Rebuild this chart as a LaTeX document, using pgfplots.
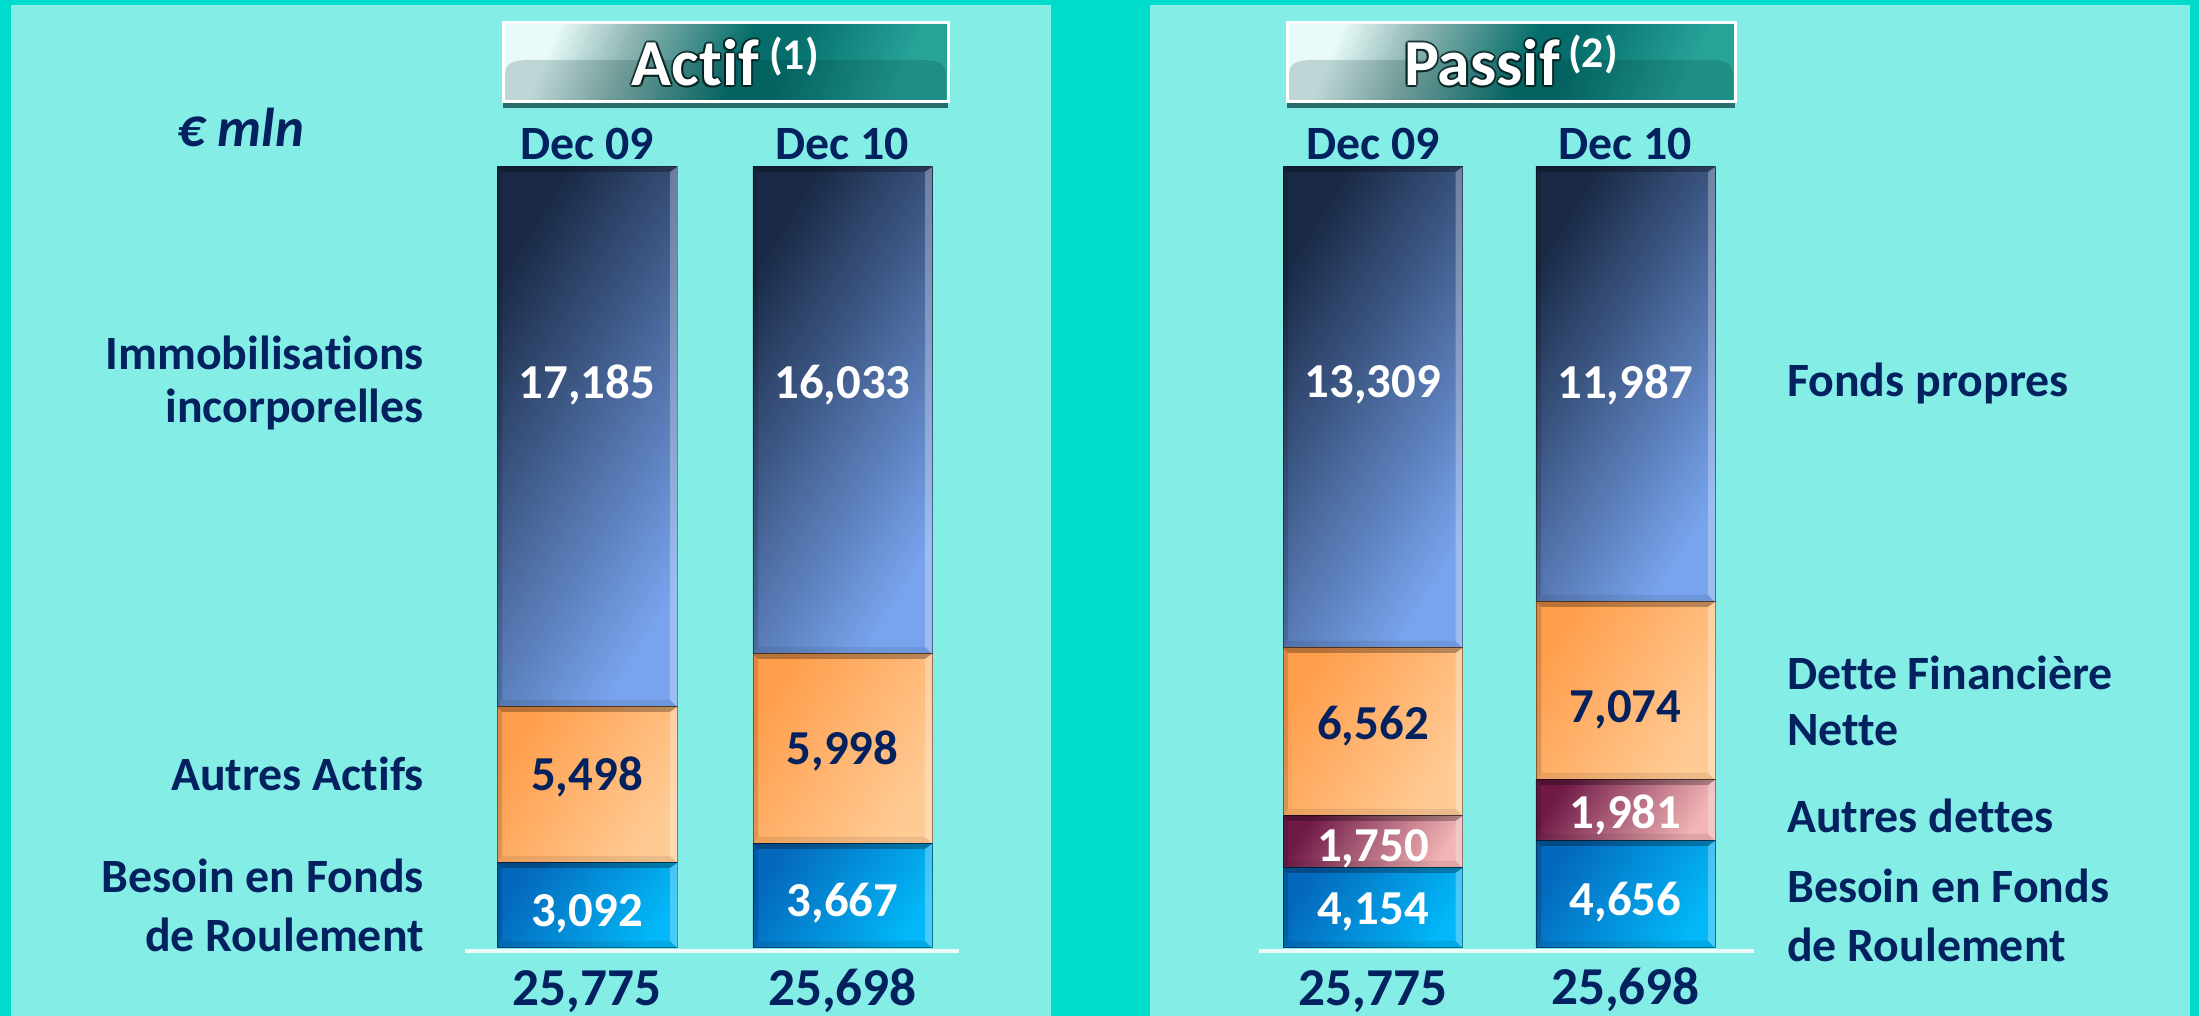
\documentclass[border=0pt]{standalone}
\usepackage{pgfplots}
\pgfplotsset{compat=1.18}
\usepackage{fontspec}
\setmainfont[Ligatures=NoCommon]{Carlito}
\definecolor{frame}{HTML}{00DCCB}
\definecolor{panel}{HTML}{84EEE6}
\definecolor{navy}{HTML}{03215F}
\definecolor{blueA}{HTML}{0468BC}
\definecolor{blueB}{HTML}{02B8F8}
\definecolor{orA}{HTML}{FF9E4C}
\definecolor{orB}{HTML}{FFCB95}
\definecolor{darkA}{HTML}{1A2A46}
\definecolor{darkB}{HTML}{78A4EE}
\definecolor{marA}{HTML}{701A48}
\definecolor{marB}{HTML}{F2B4B4}
\definecolor{ttlA}{HTML}{E8FBF9}
\definecolor{ttlG}{HTML}{8CB4B1}
\definecolor{ttlM}{HTML}{056E6B}
\definecolor{ttlB}{HTML}{27A398}
\pgfdeclarehorizontalshading{ttl}{100bp}{color(0bp)=(ttlA); color(25bp)=(ttlA); color(36bp)=(ttlG); color(52bp)=(ttlM); color(58bp)=(ttlM); color(75bp)=(ttlB); color(100bp)=(ttlB)}
\pgfplotsset{
  barstyle/.style={ybar stacked, scale only axis, height=781bp, ymin=0, ymax=781, xmin=-0.5, xmax=0.5,
    bar width=179.5bp, clip=false, axis line style={draw=none}, ytick=\empty, xtick={0},
    xticklabel pos=top, major tick length=0pt, anchor=south west,
    xticklabel style={anchor=center, yshift=23bp, text=navy, font=\bfseries\fontsize{48}{50}\selectfont}},
  labelstyle/.style={scale only axis, height=781bp, ymin=0, ymax=781, xmin=-0.5, xmax=1.5, hide axis, clip=false, anchor=south west},
  val/.style n args={2}{draw=none, mark=none, forget plot, nodes near coords, point meta=explicit symbolic,
    nodes near coords style={anchor=center, inner sep=0pt, text=#1, font=\bfseries\fontsize{#2}{#2}\selectfont}},
  shd/.style n args={2}{draw=none, left color=#1, right color=#2, shading angle=58, forget plot},
}
% Segment heights are those drawn in the reference (its segments are not to
% scale with their printed figures); the printed figures are the label tables.
\newcommand\bevel[4]{% x0 x1 ytop ybottom
  \fill[black,opacity=.28] (#1,#3) -- (#2,#3) -- (#2-7,#3+5) -- (#1+5,#3+5) -- cycle;
  \fill[white,opacity=.28] (#2,#3) -- (#2,#4) -- (#2-7,#4-7) -- (#2-7,#3+5) -- cycle;
  \fill[black,opacity=.14] (#1,#3) -- (#1+5,#3+5) -- (#1+5,#4-7) -- (#1,#4) -- cycle;
  \fill[black,opacity=.08] (#1,#4) -- (#1+5,#4-7) -- (#2-7,#4-7) -- (#2,#4) -- cycle;
  \draw[black,opacity=.40,line width=1bp] (#1,#3) rectangle (#2,#4);
}
\newcommand\titlebox[4]{% x0 x1 title shift
  \fill[black!55!teal,opacity=.7] (#1,102) rectangle (#2,108);
  \shade[shading=ttl, shading angle=-22] (#1,23) rectangle (#2,102);
  \fill[black!60!teal,opacity=.18] (#1+2,102) -- (#1+2,76) .. controls (#1+2,62) and (#1+10,60) .. (#1+30,60) -- (#2-30,60) .. controls (#2-10,60) and (#2-2,62) .. (#2-2,76) -- (#2-2,102) -- cycle;
  \draw[white,line width=3bp] (#1,23) rectangle (#2,102);
  \foreach \dx/\dy in {-2/0,2/0,0/-2,0/2,-1.5/-1.5,1.5/1.5,-1.5/1.5,1.5/-1.5}{
    \node[text=black!80!teal,opacity=.55,font=\bfseries\fontsize{66}{66}\selectfont] at ({(#1+#2)/2-#4+\dx},63+\dy) {#3};}
  \node[text=white,font=\bfseries\fontsize{66}{66}\selectfont] at ({(#1+#2)/2-#4},63) {#3};
}
\begin{document}
\begin{tikzpicture}
\useasboundingbox (0,0) rectangle (2199bp,1016bp);
\fill[frame] (0,0) rectangle (2199bp,1016bp);
\begin{scope}[x=1bp,y=-1bp,yshift=1016bp]
  \fill[panel] (11,5) rectangle (1051,1016);
  \fill[panel] (1150,5) rectangle (2190,1016);
  \titlebox{503}{948}{Actif}{30}
  \titlebox{1287}{1735}{Passif}{29}
  \node[text=white,font=\bfseries\fontsize{44}{44}\selectfont] at (794,57) {(1)};
  \node[text=white,font=\bfseries\fontsize{44}{44}\selectfont] at (1593,55) {(2)};
  \node[text=navy,font=\bfseries\itshape\fontsize{55}{55}\selectfont] at (241,127) {€ mln};
\end{scope}

% Left chart, one axis per bar
\begin{axis}[barstyle, width=255.5bp, at={(459.25bp,68bp)}, xticklabels={Dec 09}]
\addplot[shd={blueA}{blueB}] coordinates {(0,85)};
\addplot[shd={orA}{orB}] coordinates {(0,156)};
\addplot[shd={darkA}{darkB}] coordinates {(0,540)};
\end{axis}
\begin{axis}[barstyle, width=255.5bp, at={(714.75bp,68bp)}, xticklabels={Dec 10}]
\addplot[shd={blueA}{blueB}] coordinates {(0,104)};
\addplot[shd={orA}{orB}] coordinates {(0,190)};
\addplot[shd={darkA}{darkB}] coordinates {(0,487)};
\end{axis}

% Right chart, one axis per bar
\begin{axis}[barstyle, width=252.5bp, at={(1246.75bp,68bp)}, xticklabels={Dec 09}]
\addplot[shd={blueA}{blueB}] coordinates {(0,80)};
\addplot[shd={marA}{marB}] coordinates {(0,52)};
\addplot[shd={orA}{orB}] coordinates {(0,168)};
\addplot[shd={darkA}{darkB}] coordinates {(0,481)};
\end{axis}
\begin{axis}[barstyle, width=252.5bp, at={(1499.25bp,68bp)}, xticklabels={Dec 10}]
\addplot[shd={blueA}{blueB}] coordinates {(0,107)};
\addplot[shd={marA}{marB}] coordinates {(0,61)};
\addplot[shd={orA}{orB}] coordinates {(0,178)};
\addplot[shd={darkA}{darkB}] coordinates {(0,435)};
\end{axis}

\begin{scope}[x=1bp,y=-1bp,yshift=1016bp]
  \foreach \a/\b/\c/\d in {497/677/167/707, 497/677/707/863, 497/677/863/948,
     753/932/167/654, 753/932/654/844, 753/932/844/948,
     1283/1462.5/167/648, 1283/1462.5/648/816, 1283/1462.5/816/868, 1283/1462.5/868/948,
     1536/1715/167/602, 1536/1715/602/780, 1536/1715/780/841, 1536/1715/841/948}{
    \bevel{\a}{\b}{\c}{\d}}
  \fill[white!85!panel] (465,949) rectangle (959,953);
  \fill[white!85!panel] (1259,949) rectangle (1754,953);
  \begin{scope}[text=navy,inner sep=0pt,font=\bfseries\fontsize{48}{48}\selectfont]
    \node[anchor=east] at (424,352.5) {Immobilisations};
    \node[anchor=east] at (424,409) {incorporelles};
    \node[anchor=east] at (424,774) {Autres Actifs};
    \node[anchor=east] at (424,876) {Besoin en Fonds};
    \node[anchor=east] at (424,935) {de Roulement};
    \node[anchor=west] at (1787,383) {Fonds propres};
    \node[anchor=west] at (1787,673) {Dette Financière};
    \node[anchor=west] at (1787,730) {Nette};
    \node[anchor=west] at (1787,816) {Autres dettes};
    \node[anchor=west] at (1787,886) {Besoin en Fonds};
    \node[anchor=west] at (1787,945) {de Roulement};
  \end{scope}
\end{scope}

% Printed figures, left chart (y = height above the baseline)
\begin{axis}[labelstyle, width=511bp, at={(459.25bp,68bp)}]
\addplot[val={white}{49}] table[x=x,y=y,meta=t] {
x y t
0 563 17,185
1 563 16,033
0 34 3,092
1 45 3,667
};
\addplot[val={navy}{49}] table[x=x,y=y,meta=t] {
x y t
0 171 5,498
1 197 5,998
};
\addplot[val={navy}{53.5}] table[x=x,y=y,meta=t] {
x y t
0 -44 25,775
1 -43 25,698
};
\end{axis}

% Printed figures, right chart
\begin{axis}[labelstyle, width=505bp, at={(1246.75bp,68bp)}]
\addplot[val={white}{49}] table[x=x,y=y,meta=t] {
x y t
0 563 13,309
1 563 11,987
0 99 1,750
1 133 1,981
0 36 4,154
1 46 4,656
};
\addplot[val={navy}{49}] table[x=x,y=y,meta=t] {
x y t
0 222 6,562
1 238 7,074
};
\addplot[val={navy}{53.5}] table[x=x,y=y,meta=t] {
x y t
0 -44 25,775
1 -42 25,698
};
\end{axis}
\end{tikzpicture}
\end{document}
